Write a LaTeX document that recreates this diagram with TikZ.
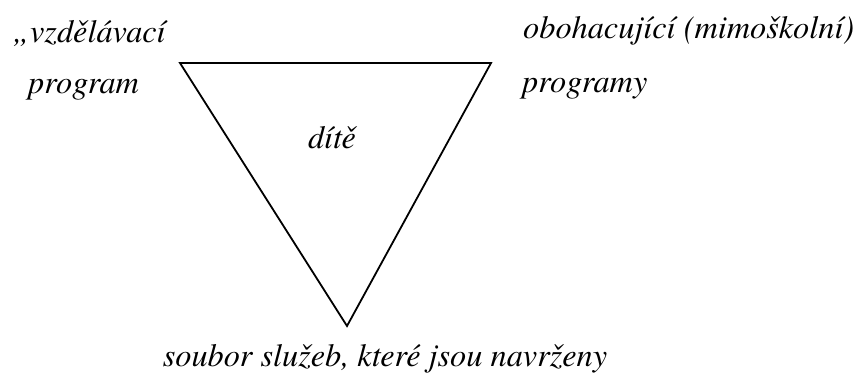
\documentclass[tikz,border=0pt]{standalone}
\usepackage{fontspec}
\setmainfont{texgyretermes}[Extension=.otf, UprightFont=*-regular, ItalicFont=*-italic, BoldFont=*-bold]
\tikzset{
  lbl/.style={inner sep=0pt, font=\fontsize{32.3bp}{37bp}\selectfont\itshape},
}
\begin{document}
\begin{tikzpicture}[x=1bp, y=-1bp]
  \useasboundingbox (0,0) rectangle (854,376);
  \coordinate (TL) at (180,63);
  \coordinate (TR) at (491,63);
  \coordinate (B) at (347,326);

  \draw[line width=1.8bp, line join=miter] (TL) -- (TR) -- (B) -- cycle;

  % labels
  \node[lbl, anchor=base west] (vzd) at (12,42) {„vzdělávací};
  \node[lbl, anchor=base west] (prg) at (28,93) {program};
  \node[lbl, anchor=base west] (obo) at (523,38) {obohacující (mimoškolní)};
  \node[lbl, anchor=base west] (prgy) at (522,92) {programy};
  \node[lbl, anchor=base] (dite) at (332,148) {dítě};
  \node[lbl, anchor=base] (soub) at (385,366) {soubor služeb, které jsou navrženy};
\end{tikzpicture}
\end{document}
